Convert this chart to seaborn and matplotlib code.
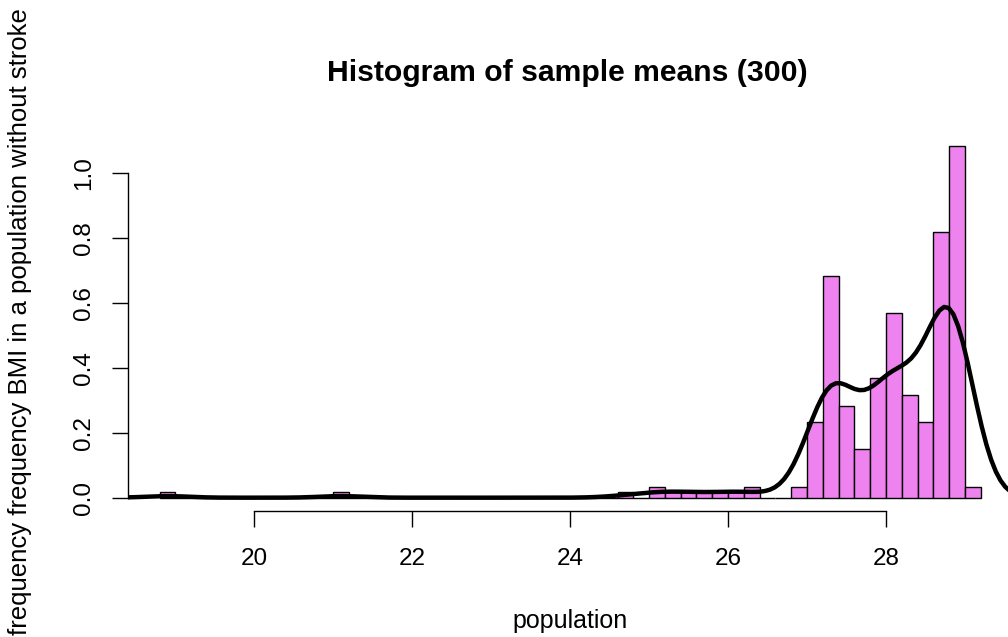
import numpy as np
import pandas as pd
import matplotlib
matplotlib.use("Agg")
import matplotlib.pyplot as plt
import seaborn as sns

# ---- data ----
bin_start = 18.8
bin_width = 0.2
counts = [1, 0, 0, 0, 0, 0, 0, 0, 0, 0,
          0, 1, 0, 0, 0, 0, 0, 0, 0, 0,
          0, 0, 0, 0, 0, 0, 0, 0, 0, 1,
          0, 2, 1, 1, 1, 1, 1, 2, 0, 0,
          2, 14, 41, 17, 9, 22, 34, 19, 14, 49,
          65, 2]
x_ticks = [20, 22, 24, 26, 28]
y_ticks = [0.0, 0.2, 0.4, 0.6, 0.8, 1.0]
title = "Histogram of sample means (300)"
xlabel = "population"
ylabel = "frequency frequency BMI in a population without stroke"

n_bins = len(counts)
edges = bin_start + bin_width * np.arange(n_bins + 1)
centers = (edges[:-1] + edges[1:]) / 2
values = np.repeat(centers, counts)
df = pd.DataFrame({"population": values})

# R-style default bandwidth (bw.nrd0), slightly widened to match the drawn curve
sd = values.std(ddof=1)
q75, q25 = np.percentile(values, [75, 25])
bw = 0.9 * min(sd, (q75 - q25) / 1.34) * len(values) ** (-0.2) * 1.07

sns.set_theme(style="ticks")
plt.rcParams["font.family"] = ["Liberation Sans", "DejaVu Sans"]

fig = plt.figure(figsize=(10.08, 6.37), dpi=100)
ax = fig.add_axes([127.5 / 1008, (637 - 511) / 637, (1008 - 127.5) / 1008, 379 / 637])

sns.histplot(data=df, x="population", bins=edges, stat="density",
             color="#EE82EE", edgecolor="black", linewidth=1.0, alpha=1.0, ax=ax)
sns.kdeplot(data=df, x="population", bw_method=bw / sd, cut=3,
            color="black", linewidth=3.2, ax=ax)

ax.set_xlim(18.394, 29.545)
ax.set_ylim(-0.041, 1.125)
ax.set_xticks(x_ticks)
ax.set_yticks(y_ticks)
ax.set_xticklabels([str(t) for t in x_ticks])
ax.set_yticklabels([f"{t:.1f}" for t in y_ticks], rotation=90, va="center")

for s in ["top", "right"]:
    ax.spines[s].set_visible(False)
ax.spines["bottom"].set_bounds(20, 28)
ax.spines["left"].set_bounds(0, 1.0)
for s in ["bottom", "left"]:
    ax.spines[s].set_color("black")
    ax.spines[s].set_linewidth(1.0)

ax.tick_params(axis="both", bottom=True, left=True, length=11.5, width=1.0,
               color="black", labelsize=17.5, labelcolor="black",
               direction="out", pad=15)
ax.tick_params(axis="y", pad=12)

ax.set_title(title, fontsize=21.7, fontweight="bold", color="black", pad=37)
ax.set_xlabel(xlabel, fontsize=18, color="black")
ax.set_ylabel(ylabel, fontsize=18.5, color="black")
ax.xaxis.label.set_va("baseline")
ax.xaxis.set_label_coords(0.503, -0.308)
ax.yaxis.label.set_va("center")
ax.yaxis.set_label_coords((20 - 127.5) / 880.5, 0.5)
ax.grid(False)

fig.savefig("out.png", dpi=100)
